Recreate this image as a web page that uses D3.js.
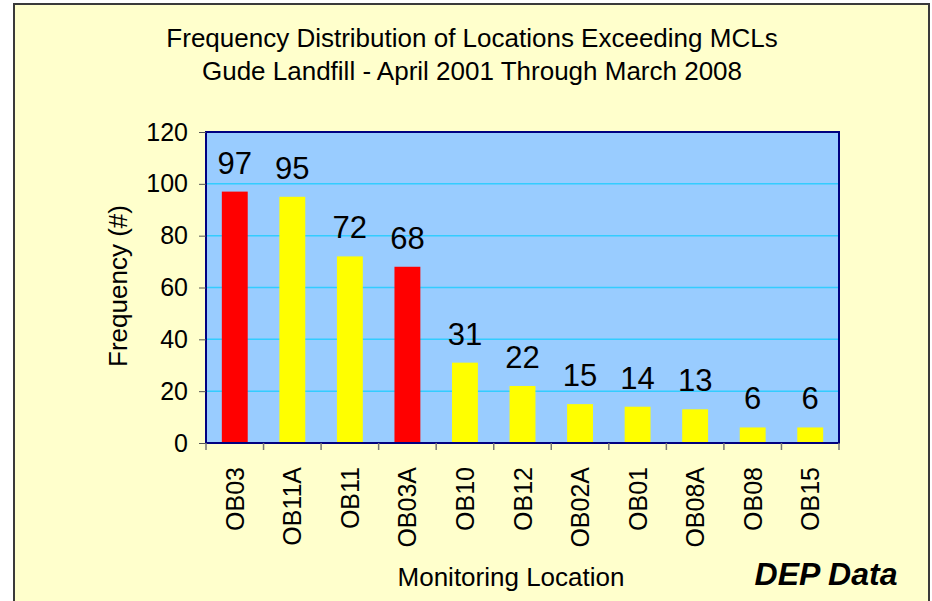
<!DOCTYPE html>
<html>
<head>
<meta charset="utf-8">
<script src="https://cdn.jsdelivr.net/npm/d3@7"></script>
<style>
  body { margin: 0; background: #fff; }
  text { font-family: "Liberation Sans", Arial, sans-serif; }
</style>
</head>
<body>
<div id="chart"></div>
<script>
// data
var locations = ['OB03', 'OB11A', 'OB11', 'OB03A', 'OB10', 'OB12', 'OB02A', 'OB01', 'OB08A', 'OB08', 'OB15']
var counts = [97, 95, 72, 68, 31, 22, 15, 14, 13, 6, 6]
var flagged = ['OB03', 'OB03A']   // drawn red
var yTicks = [0, 20, 40, 60, 80, 100, 120]

var W = 932, H = 601
var plot = { left: 206, top: 132, right: 839, bottom: 443 }

var svg = d3.select('#chart').append('svg')
    .attr('width', W)
    .attr('height', H)

// outer frame
svg.append('rect')
    .attr('x', 14).attr('y', 4)
    .attr('width', 915).attr('height', 610)
    .style('fill', '#ffffcc')
    .style('stroke', '#3a3a3a')
    .style('stroke-width', 2)

var x = d3.scaleBand()
    .domain(locations)
    .range([plot.left, plot.right])
    .paddingInner(0.55)
    .paddingOuter(0.275)
var y = d3.scaleLinear()
    .domain([0, 120])
    .range([plot.bottom, plot.top])

// plot background
svg.append('rect')
    .attr('x', plot.left).attr('y', plot.top)
    .attr('width', plot.right - plot.left)
    .attr('height', plot.bottom - plot.top)
    .style('fill', '#99ccff')

// gridlines
svg.selectAll('.grid')
    .data(yTicks.filter(function (d) { return d > 0 && d < 120 }))
    .enter().append('line')
    .attr('x1', plot.left).attr('x2', plot.right)
    .attr('y1', function (d) { return y(d) })
    .attr('y2', function (d) { return y(d) })
    .style('stroke', '#33ccff')
    .style('stroke-width', 1.5)

// bars
svg.selectAll('.bar')
    .data(counts)
    .enter().append('rect')
    .attr('x', function (d, i) { return x(locations[i]) })
    .attr('width', x.bandwidth())
    .attr('y', function (d) { return y(d) })
    .attr('height', function (d) { return y(0) - y(d) })
    .style('fill', function (d, i) { return flagged.indexOf(locations[i]) >= 0 ? '#ff0000' : '#ffff00' })

// value labels
svg.selectAll('.val')
    .data(counts)
    .enter().append('text')
    .attr('x', function (d, i) { return x(locations[i]) + x.bandwidth() / 2 })
    .attr('y', function (d) { return y(d) - 18 })
    .attr('text-anchor', 'middle')
    .style('font-size', '31px')
    .style('fill', '#000')
    .text(function (d) { return d })

// plot border
svg.append('rect')
    .attr('x', plot.left).attr('y', plot.top)
    .attr('width', plot.right - plot.left)
    .attr('height', plot.bottom - plot.top)
    .style('fill', 'none')
    .style('stroke', '#000080')
    .style('stroke-width', 2)

// y axis
var yAxis = d3.axisLeft(y)
    .tickValues(yTicks)
    .tickSize(7)
    .tickPadding(11)
var gy = svg.append('g')
    .attr('transform', 'translate(' + plot.left + ',0)')
    .call(yAxis)
gy.select('.domain').remove()
gy.selectAll('line').style('stroke', '#555')
gy.selectAll('text')
    .style('font-size', '25px')
    .style('font-family', '"Liberation Sans", Arial, sans-serif')
    .style('fill', '#000')

// x axis ticks at category boundaries
var bounds = d3.range(locations.length + 1).map(function (i) { return plot.left + i * (plot.right - plot.left) / locations.length })
svg.selectAll('.xtick')
    .data(bounds)
    .enter().append('line')
    .attr('x1', function (d) { return d }).attr('x2', function (d) { return d })
    .attr('y1', plot.bottom).attr('y2', plot.bottom + 7)
    .style('stroke', '#777')
    .style('stroke-width', 1.5)

// category labels, rotated
svg.selectAll('.cat')
    .data(locations)
    .enter().append('text')
    .attr('transform', function (d) {
        return 'translate(' + (x(d) + x.bandwidth() / 2 + 9) + ',' + (plot.bottom + 24) + ') rotate(-90)'
    })
    .attr('text-anchor', 'end')
    .style('font-size', '25px')
    .style('fill', '#000')
    .text(function (d) { return d })

// titles
svg.append('text')
    .attr('x', 472).attr('y', 47)
    .attr('text-anchor', 'middle')
    .style('font-size', '26px')
    .text('Frequency Distribution of Locations Exceeding MCLs')
svg.append('text')
    .attr('x', 472).attr('y', 80)
    .attr('text-anchor', 'middle')
    .style('font-size', '26px')
    .text('Gude Landfill - April 2001 Through March 2008')

svg.append('text')
    .attr('transform', 'translate(127,286) rotate(-90)')
    .attr('text-anchor', 'middle')
    .style('font-size', '26px')
    .text('Frequency (#)')

svg.append('text')
    .attr('x', 511).attr('y', 586)
    .attr('text-anchor', 'middle')
    .style('font-size', '26px')
    .text('Monitoring Location')

svg.append('text')
    .attr('x', 826).attr('y', 585)
    .attr('text-anchor', 'middle')
    .style('font-size', '32px')
    .style('font-weight', 'bold')
    .style('font-style', 'italic')
    .text('DEP Data')
</script>
</body>
</html>
